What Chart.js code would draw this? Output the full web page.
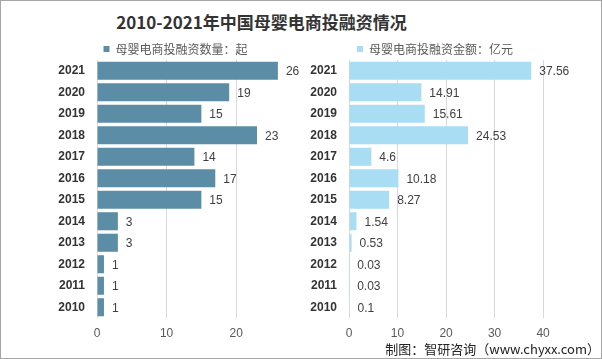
<!DOCTYPE html>
<html><head><meta charset="utf-8">
<script src="https://cdn.jsdelivr.net/npm/chart.js@4.4.1/dist/chart.umd.min.js"></script>
<style>
html,body{margin:0;padding:0;background:#fff;}
#wrap{position:relative;width:602px;height:359px;box-sizing:border-box;border:1px solid #a6a6a6;overflow:hidden;background:#fff;}
#title{position:absolute;left:0;width:521px;text-align:center;top:8px;font:bold 17px "Noto Sans CJK SC",sans-serif;color:#333;}
#note{position:absolute;right:1px;top:338px;font:13px "Noto Sans CJK SC",sans-serif;color:#222;}
canvas{position:absolute;}
</style></head>
<body>
<div id="wrap">
<div id="title">2010-2021年中国母婴电商投融资情况</div>
<div style="position:absolute;left:0;top:0;width:300px;height:359px;"><canvas id="c1"></canvas></div>
<div style="position:absolute;left:300px;top:0;width:302px;height:359px;"><canvas id="c2"></canvas></div>
<div id="note">制图：智研咨询（www.chyxx.com）</div>
</div>
<script>
const years = ['2010','2011','2012','2013','2014','2015','2016','2017','2018','2019','2020','2021'];
const dealCounts = [1,1,1,3,3,15,17,14,23,15,19,26];
const dealAmounts = [0.1,0.03,0.03,0.53,1.54,8.27,10.18,4.6,24.53,15.61,14.91,37.56];
const countLabel = '母婴电商投融资数量：起';
const amountLabel = '母婴电商投融资金额：亿元';
const countTicks = [0,10,20];
const amountTicks = [0,10,20,30,40];

const valueLabels = {
  id:'valueLabels',
  afterDatasetsDraw(chart){
    const ctx = chart.ctx;
    const meta = chart.getDatasetMeta(0);
    const ds = chart.data.datasets[0];
    ctx.save();
    ctx.font = '12px "Liberation Sans", Arial, sans-serif';
    ctx.fillStyle = '#404040';
    ctx.textBaseline = 'middle';
    ctx.textAlign = 'left';
    meta.data.forEach((bar,i)=>{
      ctx.fillText(String(ds.data[i]), bar.x + 8, bar.y + 1);
    });
    ctx.restore();
  }
};

function makeChart(id, w, data, label, color, max, ticks, pad, yWidth){
  const cv = document.getElementById(id);
  cv.width = w; cv.height = 359;
  cv.style.width = w+'px'; cv.style.height = '359px';
  const chart = new Chart(cv, {
    type:'bar',
    data:{labels:years, datasets:[{label:label, data:data, backgroundColor:color, borderWidth:0,
      categoryPercentage:1, barPercentage:0.84}]},
    options:{
      indexAxis:'y', responsive:false, animation:false, devicePixelRatio:1,
      layout:{padding:pad},
      plugins:{
        legend:{display:true, position:'top', align:'center',
          labels:{boxWidth:6, boxHeight:6, padding:5, color:'#595959',
            font:{size:12, family:'"Noto Sans CJK SC", sans-serif'}}},
        tooltip:{enabled:false}
      },
      scales:{
        y:{type:'category', reverse:true, grid:{display:false, drawTicks:false}, border:{display:false},
          ticks:{padding:12, color:'#333', font:{size:12, weight:'bold', family:'"Liberation Sans", Arial, sans-serif'}},
          afterFit(s){ s.width = yWidth; }},
        x:{type:'linear', min:0, max:max, grid:{color:'#d9d9d9', drawTicks:false}, border:{display:false},
          afterBuildTicks(s){ s.ticks = ticks.map(v=>({value:v})); },
          ticks:{padding:8, color:'#595959', font:{size:12, family:'"Liberation Sans", Arial, sans-serif'}},
          afterFit(s){ s.height = 28; }}
      }
    },
    plugins:[valueLabels]
  });
  const lg = chart.legend;
  const origFit = lg.fit.bind(lg);
  lg.fit = function(){ origFit(); this.height -= 5; };
  chart.update();
  return chart;
}
makeChart('c1', 300, dealCounts, countLabel, '#5b8ea6', 28.6, countTicks, {left:54, right:5, top:37, bottom:14}, 42);
makeChart('c2', 302, dealAmounts, amountLabel, '#a8ddf4', 44.1, amountTicks, {left:6, right:40, top:37, bottom:14}, 42);
</script>
</body></html>
